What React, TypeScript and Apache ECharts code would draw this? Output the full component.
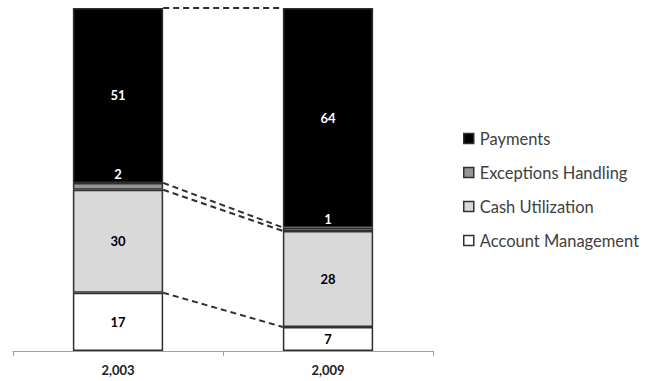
import React, { useEffect, useRef } from "react";
import * as echarts from "echarts";

const categories = ["2,003", "2,009"];
const accountManagement = [17, 7];
const cashUtilization = [30, 28];
const exceptionsHandling = [2, 1];
const payments = [51, 64];
const legendOrder = ["Payments", "Exceptions Handling", "Cash Utilization", "Account Management"];

const FONT = "Lato, 'Open Sans', sans-serif";
const BAR_FRACTION = 0.43;

export default function App() {
  const ref = useRef<HTMLDivElement>(null);

  useEffect(() => {
    if (!ref.current) return;
    const chart = echarts.init(ref.current, null, { renderer: "svg" });

    // cumulative tops of each segment, used for the connector lines
    const stacks = [accountManagement, cashUtilization, exceptionsHandling, payments];
    const cumTops: number[][] = [];
    const running = [0, 0];
    stacks.forEach((s) => {
      running[0] += s[0];
      running[1] += s[1];
      cumTops.push([running[0], running[1]]);
    });
    // connectors: account top, cash top, exceptions top, overall top
    const connectors = cumTops.map((c) => [0, c[0], c[1]]);

    const border = { borderColor: "#303030", borderWidth: 1.5 };
    const makeBar = (name: string, data: number[], color: string, labelColor: string, pos: any = "inside") => ({
      name,
      type: "bar",
      stack: "total",
      data,
      barWidth: BAR_FRACTION * 100 + "%",
      itemStyle: { color, ...border },
      label: {
        show: true,
        position: pos,
        distance: 2,
        color: labelColor,
        fontFamily: FONT,
        fontWeight: "bold",
        fontSize: 13,
      },
    });

    chart.setOption({
      animation: false,
      backgroundColor: "#ffffff",
      grid: { left: 13, right: 215, top: 8, bottom: 30 },
      legend: {
        data: legendOrder,
        orient: "vertical",
        left: 463,
        top: 130,
        padding: 0,
        itemWidth: 10,
        itemHeight: 10,
        itemGap: 17,
        icon: "rect",
        itemStyle: { borderColor: "#303030", borderWidth: 1.5 },
        textStyle: {
          fontFamily: FONT,
          fontSize: 16.5,
          lineHeight: 17,
          color: "#404040",
          padding: [0, 0, 0, 1],
        },
      },
      xAxis: {
        type: "category",
        data: categories,
        axisLine: { lineStyle: { color: "#a0a0a0", width: 1 } },
        axisTick: { show: true, length: 5, lineStyle: { color: "#a0a0a0" } },
        axisLabel: { color: "#202020", fontFamily: FONT, fontSize: 13, fontWeight: "bold", margin: 12 },
      },
      yAxis: { type: "value", min: 0, max: 100, show: false, splitLine: { show: false } },
      series: [
        makeBar("Account Management", accountManagement, "#ffffff", "#000000"),
        makeBar("Cash Utilization", cashUtilization, "#d9d9d9", "#000000"),
        makeBar("Exceptions Handling", exceptionsHandling, "#969696", "#ffffff", "top"),
        makeBar("Payments", payments, "#000000", "#ffffff"),
        {
          type: "custom",
          name: "connectors",
          data: connectors,
          z: 5,
          renderItem: (params: any, api: any) => {
            const half = (api.size([1, 0])[0] * BAR_FRACTION) / 2;
            const p0 = api.coord([0, api.value(1)]);
            const p1 = api.coord([1, api.value(2)]);
            return {
              type: "line",
              shape: { x1: p0[0] + half, y1: p0[1], x2: p1[0] - half, y2: p1[1] },
              style: { stroke: "#303030", lineWidth: 2, lineDash: [6, 4] },
            };
          },
        },
      ],
    });

    return () => chart.dispose();
  }, []);

  return <div ref={ref} style={{ position: "fixed", left: 0, top: 0, width: 648, height: 381 }} />;
}
